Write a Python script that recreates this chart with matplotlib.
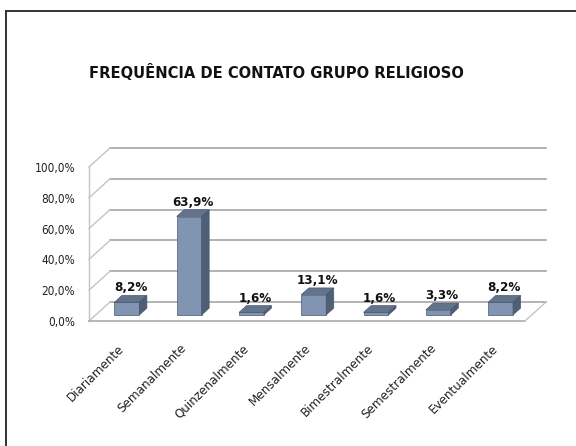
import matplotlib
matplotlib.use('Agg')
import matplotlib.pyplot as plt
import matplotlib.transforms as mtransforms
from matplotlib.patches import Polygon
from matplotlib.lines import Line2D

categories = ['Diariamente', 'Semanalmente', 'Quinzenalmente', 'Mensalmente',
              'Bimestralmente', 'Semestralmente', 'Eventualmente']
values = [8.2, 63.9, 1.6, 13.1, 1.6, 3.3, 8.2]
yticks = [0, 20, 40, 60, 80, 100]
title = 'FREQUÊNCIA DE CONTATO GRUPO RELIGIOSO'

plt.rcParams['font.family'] = ['DejaVu Sans']
plt.rcParams['font.stretch'] = 'condensed'

# depth of the 3d box in data units
DX = 0.337
DY = 12.3
d0 = 0.32      # bar front at this fraction of the depth
dd = 0.36      # bar depth fraction
w = 0.4

face = '#8195b3'
top = '#62748c'
side = '#4f5f75'
edge = '#4a5870'

fig = plt.figure(figsize=(5.76, 4.46), dpi=100)
ax = fig.add_axes([89/576, 125/446, 436/576, 154/446])
ax.set_xlim(-0.5, 6.5)
ax.set_ylim(0, 100)
for s in ax.spines.values():
    s.set_visible(False)

# walls and floor
grid_c = '#a6a6a6'
wall_c = '#c4c4c4'
for v in yticks:
    ax.plot([-0.5 + DX, 6.5 + DX], [v + DY, v + DY], color=grid_c, lw=1.2,
            clip_on=False, zorder=1)
    ax.plot([-0.5, -0.5 + DX], [v, v + DY], color=wall_c, lw=1.0,
            clip_on=False, zorder=1)
ax.plot([-0.5, -0.5], [0, 100], color=wall_c, lw=1.0, clip_on=False, zorder=1)
ax.plot([-0.5, 6.5], [0, 0], color='#b0b0b0', lw=1.3, clip_on=False, zorder=1)
ax.plot([6.5, 6.5 + DX], [0, DY], color=wall_c, lw=1.0, clip_on=False, zorder=1)

# bars
xs = [i + d0 * DX for i in range(len(values))]
ax.bar(xs, values, width=w, bottom=d0 * DY, color=face, edgecolor=edge,
       linewidth=0.5, zorder=3, clip_on=False)
for x, v in zip(xs, values):
    x0 = x - w / 2
    yb = d0 * DY
    ox, oy = dd * DX, dd * DY
    ax.add_patch(Polygon([(x0, yb + v), (x0 + w, yb + v), (x0 + w + ox, yb + v + oy),
                          (x0 + ox, yb + v + oy)], closed=True, facecolor=top,
                         edgecolor=edge, lw=0.5, zorder=3, clip_on=False))
    ax.add_patch(Polygon([(x0 + w, yb), (x0 + w, yb + v), (x0 + w + ox, yb + v + oy),
                          (x0 + w + ox, yb + oy)], closed=True, facecolor=side,
                         edgecolor=edge, lw=0.5, zorder=3, clip_on=False))
    ax.text(x + 0.5 * ox, v + (d0 + dd) * DY + 2.6, ('%.1f%%' % v).replace('.', ','),
            ha='center', va='baseline', fontsize=9.5, fontweight='bold',
            color='#111111', zorder=4)

ax.set_yticks(yticks)
ax.set_yticklabels([('%.1f%%' % v).replace('.', ',') for v in yticks])
ax.tick_params(axis='y', length=0, pad=10, labelsize=8.5, labelcolor='#222222')
ax.set_xticks(xs)
ax.set_xticklabels(categories, rotation=45, ha='right', va='top',
                   rotation_mode='anchor')
ax.tick_params(axis='x', length=0, pad=15, labelsize=9.5, labelcolor='#222222')
shift = mtransforms.ScaledTranslation(-0.09, 0, fig.dpi_scale_trans)
for lab in ax.get_xticklabels():
    lab.set_transform(lab.get_transform() + shift)

fig.text(276/576, 1 - 72/446, title, ha='center', va='center', fontsize=11.8,
         fontweight='bold', color='#111111')

# outer frame (left and top only visible)
fig.add_artist(Line2D([6/576, 6/576], [0, 1 - 11/446], color='#333333', lw=1.4))
fig.add_artist(Line2D([6/576, 1], [1 - 11/446, 1 - 11/446], color='#333333', lw=1.4))

fig.savefig('out.png', dpi=100)
